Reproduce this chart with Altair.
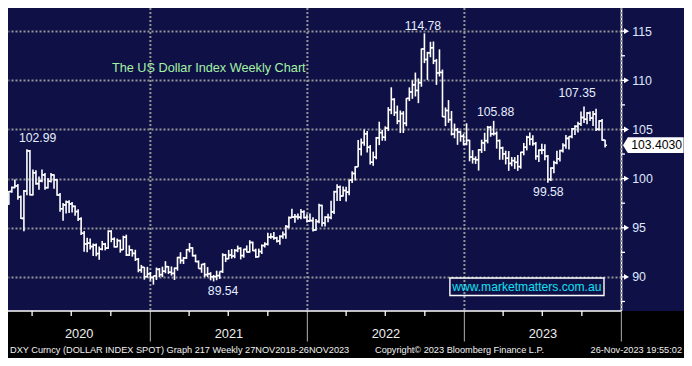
import altair as alt
import pandas as pd

# ---------------- data: DXY weekly OHLC ----------------
first_week = "2020-02-07"

opens = [
    # 2020
    97.39, 98.69, 99.09, 99.26, 98.13, 95.95, 98.74, 102.82, 98.36, 100.59,
    99.49, 99.76, 100.38, 99.08, 99.73, 100.38, 99.88, 98.34, 96.93, 97.33,
    97.62, 97.43, 97.18, 96.65, 95.91, 94.44, 93.35, 93.44, 93.09, 93.24,
    92.37, 92.82, 93.33, 92.93, 94.64, 93.84, 93.06, 93.69, 92.77, 94.04,
    92.23, 92.75, 92.39, 91.79, 90.70, 90.98, 90.02,
    # 2021
    90.30, 89.94, 90.10, 90.77, 90.23, 90.58, 91.04, 90.48, 90.36, 90.88,
    91.97, 91.67, 91.92, 92.77, 92.95, 92.16, 91.56, 90.85, 91.28, 90.23,
    90.31, 90.01, 90.03, 90.13, 90.55, 92.23, 91.85, 92.23, 92.12, 92.69,
    92.90, 92.17, 92.80, 92.53, 93.50, 92.68, 92.04, 92.58, 93.19, 93.33,
    94.04, 94.08, 93.96, 93.64, 94.12, 94.32, 95.12, 96.03, 96.09, 96.13,
    96.07, 96.63, 96.04,
    # 2022
    95.67, 95.73, 94.78, 95.64, 97.27, 95.48, 96.07, 96.04, 96.62, 98.67,
    99.13, 98.23, 98.79, 98.63, 99.85, 100.52, 101.20, 103.00, 103.66, 104.56,
    103.19, 101.67, 102.18, 104.15, 104.68, 104.21, 105.13, 107.00, 108.06, 106.73,
    105.85, 106.62, 105.63, 108.16, 108.82, 109.54, 108.97, 109.76, 113.19, 112.12,
    112.80, 113.31, 111.99, 110.75, 110.81, 106.30, 106.93, 106.00, 104.53, 104.97,
    104.74, 104.31,
    # 2023
    103.52, 103.89, 102.20, 101.99, 101.92, 102.92, 103.63, 103.86, 105.21, 104.56,
    104.58, 103.86, 103.12, 102.51, 102.08, 101.55, 101.83, 101.66, 101.22, 102.68,
    103.20, 104.21, 104.01, 103.56, 102.27, 102.90, 102.91, 102.27, 99.92, 101.07,
    101.62, 102.02, 102.85, 103.38, 104.09, 104.28, 105.07, 105.32, 105.58, 106.22,
    106.04, 106.66, 106.16, 106.56, 105.02, 105.87, 103.92,
]

highs = [
    # 2020
    98.73, 99.19, 99.91, 99.45, 98.29, 98.85, 102.99, 102.90, 100.93, 100.86,
    100.22, 100.93, 100.57, 100.07, 100.56, 100.45, 99.96, 98.53, 97.51, 97.78,
    97.79, 97.63, 97.26, 96.89, 96.06, 94.67, 93.99, 93.91, 93.39, 93.39,
    93.10, 93.66, 93.46, 94.74, 94.75, 94.02, 93.90, 93.79, 94.19, 94.30,
    93.21, 92.80, 92.76, 91.92, 91.22, 91.00, 91.02,
    # 2021
    90.50, 90.10, 90.95, 90.90, 91.04, 91.60, 91.10, 91.06, 90.95, 92.04,
    92.51, 92.03, 92.84, 93.44, 93.03, 92.28, 91.67, 91.30, 91.43, 91.00,
    90.48, 90.20, 90.63, 90.55, 92.41, 92.34, 92.74, 92.84, 92.83, 93.19,
    93.01, 92.86, 93.20, 93.73, 93.59, 92.87, 92.88, 93.29, 93.53, 94.50,
    94.45, 94.56, 94.08, 94.25, 94.63, 95.27, 96.15, 96.94, 96.41, 96.45,
    96.91, 96.78, 96.38,
    # 2022
    96.46, 96.06, 95.88, 97.44, 97.33, 96.16, 96.43, 97.74, 98.77, 99.42,
    99.29, 99.19, 99.17, 99.87, 100.76, 101.26, 103.93, 104.07, 105.01, 104.85,
    103.42, 102.74, 104.24, 105.79, 104.96, 105.32, 107.27, 109.29, 108.18, 107.43,
    106.93, 106.86, 108.19, 109.28, 109.99, 110.79, 110.20, 113.24, 114.78, 112.90,
    113.92, 113.95, 112.18, 113.15, 111.10, 107.24, 107.99, 106.88, 105.60, 105.16,
    104.87, 104.56,
    # 2023
    105.63, 103.95, 102.89, 102.26, 103.01, 103.96, 104.67, 105.36, 105.36, 105.88,
    104.80, 103.98, 103.25, 102.84, 102.80, 102.20, 102.19, 102.40, 102.73, 103.63,
    104.36, 104.70, 104.40, 103.73, 102.96, 103.54, 103.50, 102.40, 101.15, 101.81,
    102.84, 102.94, 103.59, 104.44, 104.32, 105.16, 105.43, 105.78, 106.84, 107.35,
    106.79, 106.84, 106.89, 107.11, 105.93, 106.07, 103.95,
]

lows = [
    # 2020
    97.35, 98.55, 99.03, 97.86, 95.88, 94.65, 98.32, 98.27, 98.29, 99.37,
    98.86, 99.63, 98.87, 98.99, 99.61, 98.98, 98.26, 96.63, 95.71, 96.44,
    96.49, 96.54, 96.23, 95.69, 94.27, 92.55, 92.52, 92.78, 92.13, 92.10,
    91.75, 92.70, 92.70, 92.85, 93.53, 92.99, 93.00, 92.47, 92.75, 92.13,
    92.13, 92.06, 91.62, 90.47, 90.42, 89.72, 89.93,
    # 2021
    89.63, 89.21, 89.69, 89.97, 89.98, 90.37, 90.29, 90.13, 89.68, 90.63,
    91.34, 91.31, 91.83, 92.50, 92.07, 91.50, 90.84, 90.42, 89.98, 89.98,
    89.65, 89.54, 89.66, 89.80, 90.40, 91.51, 91.80, 91.86, 91.90, 92.51,
    91.78, 91.95, 92.48, 92.47, 92.62, 91.94, 92.01, 92.33, 92.98, 93.19,
    93.88, 93.77, 93.50, 93.28, 93.87, 93.87, 94.96, 96.00, 95.52, 95.84,
    95.86, 95.94, 95.54,
    # 2022
    95.64, 94.63, 94.70, 95.47, 95.14, 95.14, 95.55, 95.87, 96.41, 97.73,
    97.71, 98.19, 97.68, 98.32, 99.56, 99.82, 101.20, 102.35, 103.35, 102.66,
    101.43, 101.30, 101.97, 103.41, 103.86, 103.85, 104.85, 106.56, 106.38, 105.54,
    104.64, 104.64, 105.33, 107.89, 108.12, 108.36, 107.68, 109.35, 111.75, 110.05,
    112.35, 111.65, 109.54, 110.39, 106.27, 105.34, 105.68, 104.39, 104.11, 103.44,
    103.76, 103.39,
    # 2023
    103.39, 101.76, 101.53, 101.50, 100.82, 102.61, 102.80, 103.59, 104.26, 104.38,
    103.05, 101.92, 101.92, 101.45, 100.79, 101.26, 100.99, 100.79, 101.01, 102.37,
    102.87, 103.39, 103.35, 101.92, 101.70, 102.47, 101.88, 99.58, 99.75, 100.55,
    101.45, 101.74, 102.66, 103.03, 102.97, 104.11, 104.43, 104.68, 105.35, 105.66,
    105.53, 105.87, 105.36, 104.84, 104.88, 103.85, 103.17,
]

closes = [
    # 2020
    98.69, 99.09, 99.26, 98.13, 95.95, 98.74, 102.82, 98.36, 100.59, 99.49,
    99.76, 100.38, 99.08, 99.73, 100.38, 99.88, 98.34, 96.93, 97.33, 97.62,
    97.43, 97.18, 96.65, 95.91, 94.44, 93.35, 93.44, 93.09, 93.24, 92.37,
    92.82, 93.33, 92.93, 94.64, 93.84, 93.06, 93.69, 92.77, 94.04, 92.23,
    92.75, 92.39, 91.79, 90.70, 90.98, 90.02, 90.30,
    # 2021
    89.94, 90.10, 90.77, 90.23, 90.58, 91.04, 90.48, 90.36, 90.88, 91.97,
    91.67, 91.92, 92.77, 92.95, 92.16, 91.56, 90.85, 91.28, 90.23, 90.31,
    90.01, 90.03, 90.13, 90.55, 92.23, 91.85, 92.23, 92.12, 92.69, 92.90,
    92.17, 92.80, 92.53, 93.50, 92.68, 92.04, 92.58, 93.19, 93.33, 94.04,
    94.08, 93.96, 93.64, 94.12, 94.32, 95.12, 96.03, 96.09, 96.13, 96.07,
    96.63, 96.04, 95.67,
    # 2022
    95.73, 94.78, 95.64, 97.27, 95.48, 96.07, 96.04, 96.62, 98.67, 99.13,
    98.23, 98.79, 98.63, 99.85, 100.52, 101.20, 103.00, 103.66, 104.56, 103.19,
    101.67, 102.18, 104.15, 104.68, 104.21, 105.13, 107.00, 108.06, 106.73, 105.85,
    106.62, 105.63, 108.16, 108.82, 109.54, 108.97, 109.76, 113.19, 112.12, 112.80,
    113.31, 111.99, 110.75, 110.81, 106.30, 106.93, 106.00, 104.53, 104.97, 104.74,
    104.31, 103.52,
    # 2023
    103.89, 102.20, 101.99, 101.92, 102.92, 103.63, 103.86, 105.21, 104.56, 104.58,
    103.86, 103.12, 102.51, 102.08, 101.55, 101.83, 101.66, 101.22, 102.68, 103.20,
    104.21, 104.01, 103.56, 102.27, 102.90, 102.91, 102.27, 99.92, 101.07, 101.62,
    102.02, 102.85, 103.38, 104.09, 104.28, 105.07, 105.32, 105.58, 106.22, 106.04,
    106.66, 106.16, 106.56, 105.02, 105.87, 103.92, 103.40,
]

y_ticks = [90, 95, 100, 105, 110, 115]
y_minor = [87.5, 92.5, 97.5, 102.5, 107.5, 112.5]
quarter_ticks = ["2020-04-01", "2020-07-01", "2020-10-01",
                 "2021-04-01", "2021-07-01", "2021-10-01",
                 "2022-04-01", "2022-07-01", "2022-10-01",
                 "2023-04-01", "2023-07-01", "2023-10-01"]
year_bounds = ["2021-01-01", "2022-01-01", "2023-01-01", "2024-01-01"]
year_names = ["2020", "2021", "2022", "2023"]

ann_text = ["102.99", "89.54", "114.78", "105.88", "99.58", "107.35"]
ann_date = ["2020-03-20", "2021-05-28", "2022-09-30", "2023-03-10", "2023-07-14", "2023-10-06"]
ann_value = [102.99, 89.54, 114.78, 105.88, 99.58, 107.35]
last_price = 103.4030

title_text = "The US Dollar Index Weekly Chart"
site_text = "www.marketmatters.com.au"
footer_left = "DXY Curncy (DOLLAR INDEX SPOT) Graph 217  Weekly 27NOV2018-26NOV2023"
footer_mid = "Copyright\u00a9 2023 Bloomberg Finance L.P."
footer_right = "26-Nov-2023 19:55:02"

# ---------------- layout ----------------
SX = 676 / 692
SY = 350 / 366
W = 613
H = 303
TOTAL_W, TOTAL_H = 676, 350

NAVY = "#0f1046"
GRID = "#959595"
FONT = "Liberation Sans, Arial, Helvetica, sans-serif"

D_START = pd.Timestamp("2020-02-05")
XS = alt.Scale(domain=[alt.DateTime(year=2020, month=2, date=5),
                       alt.DateTime(year=2023, month=12, date=31)])
YS = alt.Scale(domain=[86.53, 117.36], nice=False, zero=False)
Y_AXIS = alt.Axis(
    orient="right", values=y_ticks, title=None,
    grid=True, gridColor=GRID, gridDash=[2, 2], gridWidth=2,
    ticks=False, tickSize=0, labelPadding=10.7,
    labelColor="#dfe7ff", labelFontSize=12.4, labelFont=FONT,
    labelBaseline="middle",
    domain=True, domainColor="white", domainWidth=1.5)

df = pd.DataFrame({
    "date": pd.date_range(first_week, periods=len(closes), freq="7D"),
    "open": opens, "high": highs, "low": lows, "close": closes,
})

dummy = pd.DataFrame({"k": [0]})


def xenc(field="date"):
    return alt.X(f"{field}:T", scale=XS, axis=None)


def yenc(field):
    return alt.Y(f"{field}:Q", scale=YS, axis=Y_AXIS)


layers = []

# bottom black band
layers.append(alt.Chart(dummy).mark_rect(color="#000000").encode(
    x=alt.value(0), x2=alt.value(TOTAL_W), y=alt.value(H), y2=alt.value(TOTAL_H)))

# vertical dotted year lines (plot) and solid separators (band)
df_years = pd.DataFrame({"date": pd.to_datetime(year_bounds)})
layers.append(alt.Chart(df_years).mark_rule(color=GRID, strokeWidth=2, strokeDash=[2, 2]).encode(
    x=xenc(), y=alt.value(0), y2=alt.value(H)))
layers.append(alt.Chart(df_years).mark_rule(color=GRID, strokeWidth=1.2).encode(
    x=xenc(), y=alt.value(H), y2=alt.value(H + 30.5)))

# quarterly ticks on the time axis
df_q = pd.DataFrame({"date": pd.to_datetime(quarter_ticks)})
layers.append(alt.Chart(df_q).mark_rule(color="white", strokeWidth=1.3).encode(
    x=xenc(), y=alt.value(H), y2=alt.value(H + 5)))

# bottom border of the plot
layers.append(alt.Chart(dummy).mark_rule(color="white", strokeWidth=1.5).encode(
    x=alt.value(0), x2=alt.value(W), y=alt.value(H)))

# OHLC bars
bars = alt.Chart(df)
BW = 1.6
layers.append(bars.mark_rule(color="white", strokeWidth=BW).encode(
    x=xenc(), y=yenc("low"), y2="high:Q"))
layers.append(bars.mark_rule(color="white", strokeWidth=BW, xOffset=-1.9).encode(
    x=xenc(), x2=alt.X2("date:T"), y=yenc("open")))
layers.append(bars.mark_rule(color="white", strokeWidth=BW, x2Offset=1.9).encode(
    x=xenc(), x2=alt.X2("date:T"), y=yenc("close")))

# right-axis tick marks
df_minor = pd.DataFrame({"v": y_minor + y_ticks})
layers.append(alt.Chart(df_minor).mark_rule(color="white", strokeWidth=1.3).encode(
    x=alt.value(W), x2=alt.value(W + 4), y=yenc("v")))
df_major = pd.DataFrame({"v": y_ticks})
layers.append(alt.Chart(df_major).mark_point(shape="triangle-right", filled=True, color="white",
                                             size=34, opacity=1).encode(
    x=alt.value(W + 5.5), y=yenc("v")))

# peak / trough annotations
ann_df = pd.DataFrame({"date": pd.to_datetime(ann_date), "value": ann_value, "label": ann_text})
offsets = [(11.0, -12.0), (9.7, 9.5), (-1.5, -7.6), (2.0, -9.4), (0.5, 10.0), (-7.0, -14.0)]
for i, (dx, dy) in enumerate(offsets):
    layers.append(alt.Chart(ann_df.iloc[[i]]).mark_text(
        font=FONT, fontSize=12.2, color="#e6eeff", align="center", baseline="middle",
        dx=dx * SX, dy=dy * SY).encode(x=xenc(), y=yenc("value"), text="label:N"))

# last price tag
tag_df = pd.DataFrame({"v": [last_price], "label": [f"{last_price:.4f}"]})
tag_path = "M -1 0 L -0.84 -0.26 L 1 -0.26 L 1 0.26 L -0.84 0.26 Z"
layers.append(alt.Chart(tag_df).mark_point(shape=tag_path, filled=True, color="white",
                                           size=3672, opacity=1).encode(
    x=alt.value(645.3), y=yenc("v")))
layers.append(alt.Chart(tag_df).mark_text(font=FONT, fontSize=12.2, color="#000000",
                                          align="center", baseline="middle").encode(
    x=alt.value(648.6), y=yenc("v"), text="label:N"))

# year labels centred in each visible year segment
seg_start = [D_START] + list(pd.to_datetime(year_bounds[:-1]))
seg_end = list(pd.to_datetime(year_bounds))
yl_df = pd.DataFrame({
    "date": [s + (e - s) / 2 for s, e in zip(seg_start, seg_end)],
    "label": year_names,
})
layers.append(alt.Chart(yl_df).mark_text(font=FONT, fontSize=12.8, color="#eeeeee",
                                         align="center", baseline="middle").encode(
    x=xenc(), y=alt.value(H + 23), text="label:N"))

# title
layers.append(alt.Chart(dummy).mark_text(font=FONT, fontSize=12.7, color="#a4f2a4",
                                         align="center", baseline="middle").encode(
    x=alt.value(200.8), y=alt.value(60.2), text=alt.value(title_text)))

# website box
layers.append(alt.Chart(dummy).mark_rect(fillOpacity=0, stroke="white", strokeWidth=1.4).encode(
    x=alt.value(441.9), x2=alt.value(596.0), y=alt.value(270.0), y2=alt.value(287.5)))
layers.append(alt.Chart(dummy).mark_text(font=FONT, fontSize=12.1, color="#10e0f0",
                                         align="center", baseline="middle").encode(
    x=alt.value(518.8), y=alt.value(278.9), text=alt.value(site_text)))

# footer
FS = 9.2
layers.append(alt.Chart(dummy).mark_text(font=FONT, fontSize=FS, color="#f2f2f2",
                                         align="left", baseline="middle").encode(
    x=alt.value(2), y=alt.value(341.5), text=alt.value(footer_left)))
layers.append(alt.Chart(dummy).mark_text(font=FONT, fontSize=FS, color="#f2f2f2",
                                         align="left", baseline="middle").encode(
    x=alt.value(367), y=alt.value(341.5), text=alt.value(footer_mid)))
layers.append(alt.Chart(dummy).mark_text(font=FONT, fontSize=FS, color="#f2f2f2",
                                         align="right", baseline="middle").encode(
    x=alt.value(674), y=alt.value(341.5), text=alt.value(footer_right)))

chart = alt.layer(*layers).properties(
    width=W, height=H,
    padding={"left": 0, "top": 0, "right": TOTAL_W - W, "bottom": TOTAL_H - H},
    autosize=alt.AutoSizeParams(type="none"),
).configure(background=NAVY).configure_view(stroke=None, fill=NAVY)

chart.save("out.html", embed_options={"renderer": "svg", "actions": False})
